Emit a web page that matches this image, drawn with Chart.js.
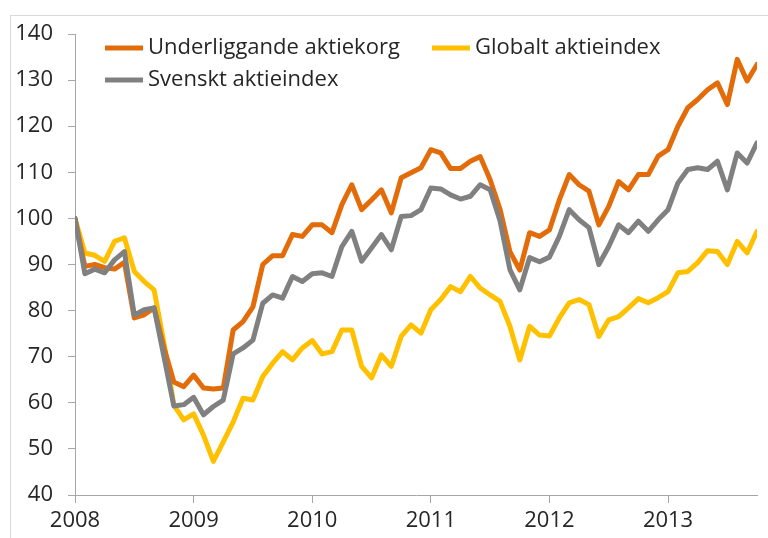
<!DOCTYPE html>
<html>
<head>
<meta charset="utf-8">
<script src="https://cdn.jsdelivr.net/npm/chart.js@4.4.1/dist/chart.umd.min.js"></script>
<style>
    html, body { margin: 0; padding: 0; background: #fff; overflow: hidden; }
    #wrap { position: relative; width: 768px; height: 538px; }
    #frame { position: absolute; left: 10px; top: 15px; width: 800px; height: 600px; border: 1px solid #d9d9d9; }
    canvas { position: absolute; left: 0; top: 0; }
</style>
</head>
<body>
<div id="wrap">
    <div id="frame"></div>
    <canvas id="chart" width="768" height="538"></canvas>
</div>
<script>
// Monthly observations, Jan 2008 - Oct 2013 (index = 100 at start)
const months = [
    '2008-01','2008-02','2008-03','2008-04','2008-05','2008-06','2008-07','2008-08','2008-09','2008-10','2008-11','2008-12',
    '2009-01','2009-02','2009-03','2009-04','2009-05','2009-06','2009-07','2009-08','2009-09','2009-10','2009-11','2009-12',
    '2010-01','2010-02','2010-03','2010-04','2010-05','2010-06','2010-07','2010-08','2010-09','2010-10','2010-11','2010-12',
    '2011-01','2011-02','2011-03','2011-04','2011-05','2011-06','2011-07','2011-08','2011-09','2011-10','2011-11','2011-12',
    '2012-01','2012-02','2012-03','2012-04','2012-05','2012-06','2012-07','2012-08','2012-09','2012-10','2012-11','2012-12',
    '2013-01','2013-02','2013-03','2013-04','2013-05','2013-06','2013-07','2013-08','2013-09','2013-10'
];

const yearLabels = ['2008', '2009', '2010', '2011', '2012', '2013'];

const underliggande = [
    100, 89.6, 90, 89.3, 89, 90.5, 78.4, 79.1, 80.6, 72, 64.5, 63.5,
    66, 63.2, 63, 63.2, 75.8, 77.6, 80.8, 90, 91.9, 91.9, 96.5, 96.1,
    98.6, 98.6, 96.9, 103, 107.3, 101.9, 104, 106.2, 101.2, 108.8, 109.9, 111,
    114.9, 114.2, 110.8, 110.8, 112.4, 113.4, 108.4, 102, 92.8, 88.8, 96.9, 96.1,
    97.5, 104, 109.5, 107.3, 105.9, 98.6, 102.6, 108, 106.2, 109.5, 109.5, 113.5,
    114.9, 120, 124, 125.8, 127.9, 129.4, 124.7, 134.5, 129.8, 133.4
];

const globalt = [
    100, 92.5, 92, 90.7, 95, 95.8, 88.5, 86.3, 84.5, 73, 59.5, 56.3,
    57.6, 53, 47.3, 51.5, 55.8, 61, 60.6, 65.7, 68.6, 71.1, 69.3, 71.9,
    73.5, 70.6, 71.1, 75.8, 75.8, 67.9, 65.4, 70.4, 67.9, 74.4, 76.9, 75.1,
    80.2, 82.4, 85.2, 84.1, 87.4, 84.9, 83.4, 82, 76.6, 69.3, 76.6, 74.7,
    74.5, 78.4, 81.7, 82.4, 81.3, 74.4, 78, 78.7, 80.6, 82.6, 81.7, 82.8,
    84.1, 88.2, 88.5, 90.4, 93, 92.8, 90, 95, 92.5, 97.2
];

const svenskt = [
    100, 88, 89, 88.2, 91, 92.8, 79, 80.2, 80.6, 70, 59.3, 59.6,
    61.2, 57.4, 59.2, 60.6, 70.6, 71.9, 73.6, 81.6, 83.4, 82.7, 87.4, 86.3,
    88, 88.2, 87.4, 93.9, 97.2, 90.7, 93.6, 96.5, 93.2, 100.4, 100.6, 101.9,
    106.6, 106.4, 105.1, 104.2, 104.8, 107.3, 106.2, 99.5, 88.9, 84.5, 91.5, 90.6,
    91.6, 96.1, 101.9, 99.7, 98, 90, 93.9, 98.6, 96.9, 99.4, 97.2, 99.7,
    101.9, 107.7, 110.6, 111, 110.6, 112.4, 106.2, 114.2, 112, 116.4
];

const yTicks = [40, 50, 60, 70, 80, 90, 100, 110, 120, 130, 140];

const FONT = { family: "'Open Sans', sans-serif", size: 22 };
const TEXT = '#262626';
const AXIS = '#a6a6a6';

function toPoints(values) {
    return values.map((v, i) => ({ x: i, y: v }));
}

// Legend drawn inside the plot area (two columns, first column has two rows)
const insideLegend = {
    id: 'insideLegend',
    afterDraw(chart, args, opts) {
        const ctx = chart.ctx;
        ctx.save();
        ctx.font = `${FONT.size}px ${FONT.family}`;
        ctx.textBaseline = 'middle';
        ctx.fillStyle = TEXT;
        chart.data.datasets.forEach((ds, i) => {
            const pos = opts.slots[ds.legendSlot];
            ctx.strokeStyle = ds.borderColor;
            ctx.lineWidth = 5;
            ctx.beginPath();
            ctx.moveTo(pos.x, pos.y);
            ctx.lineTo(pos.x + 38, pos.y);
            ctx.stroke();
            ctx.fillText(ds.label, pos.x + 43, pos.y);
        });
        ctx.restore();
    }
};

const chart = new Chart(document.getElementById('chart'), {
    type: 'line',
    data: {
        datasets: [
            {
                label: 'Svenskt aktieindex',
                data: toPoints(svenskt),
                borderColor: '#808080',
                legendSlot: 2,
                order: 0
            },
            {
                label: 'Underliggande aktiekorg',
                data: toPoints(underliggande),
                borderColor: '#e36c0a',
                legendSlot: 0,
                order: 1
            },
            {
                label: 'Globalt aktieindex',
                data: toPoints(globalt),
                borderColor: '#ffc000',
                legendSlot: 1,
                order: 2
            }
        ].map(ds => Object.assign(ds, {
            borderWidth: 5,
            pointRadius: 0,
            tension: 0,
            fill: false,
            borderJoinStyle: 'round',
            borderCapStyle: 'round'
        }))
    },
    options: {
        responsive: false,
        animation: false,
        layout: { padding: { top: 34, right: 11, left: 0, bottom: 0 } },
        scales: {
            x: {
                type: 'linear',
                min: 0,
                max: months.length - 1,
                afterBuildTicks: (scale) => {
                    scale.ticks = yearLabels.map((y, k) => ({ value: months.indexOf(y + '-01') }));
                },
                afterFit: (scale) => { scale.height = 43; },
                ticks: {
                    font: FONT,
                    color: TEXT,
                    padding: 5,
                    maxRotation: 0,
                    callback: (v) => months[v] ? months[v].slice(0, 4) : ''
                },
                grid: { drawOnChartArea: false, drawTicks: true, tickLength: 8, color: AXIS },
                border: { color: AXIS, width: 1 }
            },
            y: {
                min: 40,
                max: 140,
                afterBuildTicks: (scale) => {
                    scale.ticks = yTicks.map(v => ({ value: v }));
                },
                afterFit: (scale) => { scale.width = 75; },
                ticks: { font: FONT, color: TEXT, padding: 15 },
                grid: { drawOnChartArea: false, drawTicks: true, tickLength: 7, color: AXIS },
                border: { color: AXIS, width: 1 }
            }
        },
        plugins: {
            legend: { display: false },
            tooltip: { enabled: false },
            insideLegend: {
                slots: [
                    { x: 105, y: 48 },
                    { x: 432, y: 48 },
                    { x: 105, y: 80 }
                ]
            }
        }
    },
    plugins: [insideLegend]
});
</script>
</body>
</html>
